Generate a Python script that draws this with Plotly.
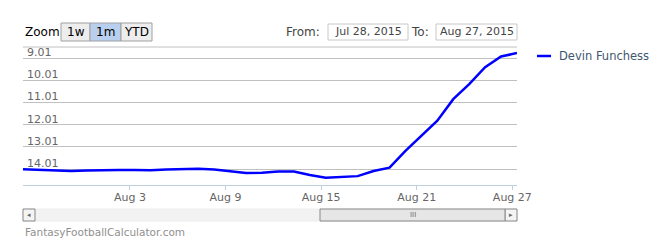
import plotly.graph_objects as go

dates = ["2015-07-27", "2015-07-28", "2015-07-29", "2015-07-30", "2015-07-31",
         "2015-08-01", "2015-08-02", "2015-08-03", "2015-08-04", "2015-08-05",
         "2015-08-06", "2015-08-07", "2015-08-08", "2015-08-09", "2015-08-10",
         "2015-08-11", "2015-08-12", "2015-08-13", "2015-08-14", "2015-08-15",
         "2015-08-16", "2015-08-17", "2015-08-18", "2015-08-19", "2015-08-20",
         "2015-08-21", "2015-08-22", "2015-08-23", "2015-08-24", "2015-08-25",
         "2015-08-26", "2015-08-27"]
adp = [14.02, 14.04, 14.07, 14.10, 14.08, 14.05, 14.05, 14.05, 14.06, 14.03,
       14.02, 14.00, 14.03, 14.10, 14.19, 14.18, 14.12, 14.12, 14.28, 14.40,
       14.37, 14.33, 14.10, 13.95, 13.19, 12.49, 11.83, 10.86, 10.18, 9.42,
       8.94, 8.78]
series_name = "Devin Funchess"
y_ticks = [9.01, 10.01, 11.01, 12.01, 13.01, 14.01]
x_ticks = ["2015-08-03", "2015-08-09", "2015-08-15", "2015-08-21", "2015-08-27"]
x_tick_labels = ["Aug 3", "Aug 9", "Aug 15", "Aug 21", "Aug 27"]
zoom_buttons = ["1w", "1m", "YTD"]
from_date = "Jul 28, 2015"
to_date = "Aug 27, 2015"
credit = "FantasyFootballCalculator.com"

times = [d + " 07:00" for d in dates]

FONT = "DejaVu Sans"
L, R, T, B = 23, 517, 47, 185
W, H = 658, 246


def px(x):
    return (x - L) / (R - L)


def py(y):
    return (B - y) / (B - T)


fig = go.Figure()
fig.add_trace(go.Scatter(x=times, y=adp, mode="lines", name=series_name,
                         line=dict(color="#0000FF", width=2.5),
                         showlegend=False))

shapes = []
ann = []

# top border line of plot
shapes.append(dict(type="line", xref="paper", yref="paper", x0=0, x1=1, y0=1, y1=1,
                   line=dict(color="#C0C0C0", width=1)))

# y-axis labels above gridlines
for v in y_ticks:
    ann.append(dict(text=f"{v:.2f}", xref="paper", yref="y", x=px(25), y=v,
                    xanchor="left", yanchor="bottom", showarrow=False, yshift=-3,
                    font=dict(family=FONT, size=11, color="#666666")))

# legend (drawn manually)
shapes.append(dict(type="line", xref="paper", yref="paper", x0=px(537), x1=px(551),
                   y0=py(56), y1=py(56), line=dict(color="#0000FF", width=2.5)))
ann.append(dict(text=series_name, xref="paper", yref="paper", x=px(557), y=py(56),
                xanchor="left", yanchor="middle", showarrow=False,
                font=dict(family=FONT, size=11.5, color="#3E576F")))

# Zoom label and buttons
ann.append(dict(text="Zoom", xref="paper", yref="paper", x=px(23), y=py(32),
                xanchor="left", yanchor="middle", showarrow=False,
                font=dict(family=FONT, size=12, color="#000000")))
btn_x = [(61, 90), (90, 121), (121, 152)]
for label, (x0, x1) in zip(zoom_buttons, btn_x):
    sel = label == "1m"
    shapes.append(dict(type="rect", xref="paper", yref="paper", x0=px(x0), x1=px(x1),
                       y0=py(41), y1=py(23),
                       fillcolor="#B8CFEE" if sel else "#EDEDED",
                       line=dict(color="#A0A0A0", width=1)))
    ann.append(dict(text=label, xref="paper", yref="paper", x=px((x0 + x1) / 2), y=py(32),
                    xanchor="center", yanchor="middle", showarrow=False,
                    font=dict(family=FONT, size=12, color="#000000")))

# From / To inputs
ann.append(dict(text="From:", xref="paper", yref="paper", x=px(322), y=py(32),
                xanchor="right", yanchor="middle", showarrow=False,
                font=dict(family=FONT, size=12, color="#444444")))
shapes.append(dict(type="rect", xref="paper", yref="paper", x0=px(328), x1=px(408),
                   y0=py(40), y1=py(24), fillcolor="#FFFFFF",
                   line=dict(color="#C8C8C8", width=1)))
ann.append(dict(text=from_date, xref="paper", yref="paper", x=px(368), y=py(32),
                xanchor="center", yanchor="middle", showarrow=False,
                font=dict(family=FONT, size=11, color="#444444")))
ann.append(dict(text="To:", xref="paper", yref="paper", x=px(431), y=py(32),
                xanchor="right", yanchor="middle", showarrow=False,
                font=dict(family=FONT, size=12, color="#444444")))
shapes.append(dict(type="rect", xref="paper", yref="paper", x0=px(436), x1=px(517),
                   y0=py(40), y1=py(24), fillcolor="#FFFFFF",
                   line=dict(color="#C8C8C8", width=1)))
ann.append(dict(text=to_date, xref="paper", yref="paper", x=px(476.5), y=py(32),
                xanchor="center", yanchor="middle", showarrow=False,
                font=dict(family=FONT, size=11, color="#444444")))

# scrollbar
shapes.append(dict(type="rect", xref="paper", yref="paper", x0=px(23), x1=px(517),
                   y0=py(221), y1=py(209), fillcolor="#F2F2F2",
                   line=dict(color="#EEEEEE", width=1)))
shapes.append(dict(type="rect", xref="paper", yref="paper", x0=px(23), x1=px(35),
                   y0=py(221), y1=py(209), fillcolor="#F4F4F4",
                   line=dict(color="#888888", width=1)))
shapes.append(dict(type="rect", xref="paper", yref="paper", x0=px(505), x1=px(517),
                   y0=py(221), y1=py(209), fillcolor="#F4F4F4",
                   line=dict(color="#888888", width=1)))
shapes.append(dict(type="rect", xref="paper", yref="paper", x0=px(320), x1=px(505),
                   y0=py(221), y1=py(209), fillcolor="#E6E6E6",
                   line=dict(color="#888888", width=1)))
ann.append(dict(text="◂", xref="paper", yref="paper", x=px(29), y=py(215),
                xanchor="center", yanchor="middle", showarrow=False,
                font=dict(family=FONT, size=7, color="#666666")))
ann.append(dict(text="▸", xref="paper", yref="paper", x=px(511), y=py(215),
                xanchor="center", yanchor="middle", showarrow=False,
                font=dict(family=FONT, size=7, color="#666666")))
ann.append(dict(text="III", xref="paper", yref="paper", x=px(412.5), y=py(215),
                xanchor="center", yanchor="middle", showarrow=False,
                font=dict(family=FONT, size=7, color="#666666")))

# credit
ann.append(dict(text=credit, xref="paper", yref="paper", x=px(23), y=py(232),
                xanchor="left", yanchor="middle", showarrow=False,
                font=dict(family=FONT, size=10.5, color="#909090")))

fig.update_layout(
    width=W, height=H,
    margin=dict(l=L, r=W - R, t=T, b=H - B, pad=0),
    paper_bgcolor="#FFFFFF", plot_bgcolor="#FFFFFF",
    font=dict(family=FONT, size=11, color="#666666"),
    shapes=shapes, annotations=ann,
    xaxis=dict(range=[times[0], times[-1]], tickvals=x_ticks, ticktext=x_tick_labels,
               showgrid=False, zeroline=False, showline=True, linecolor="#C0D0E0",
               linewidth=1, ticks="outside", ticklen=4, tickcolor="#C0D0E0",
               ticklabelstandoff=-2,
               tickfont=dict(family=FONT, size=11, color="#666666")),
    yaxis=dict(range=[14.73, 8.51], tickvals=y_ticks, showticklabels=False,
               showgrid=True, gridcolor="#C0C0C0",
               gridwidth=1, zeroline=False, showline=False),
)

fig.write_html("out.html")
